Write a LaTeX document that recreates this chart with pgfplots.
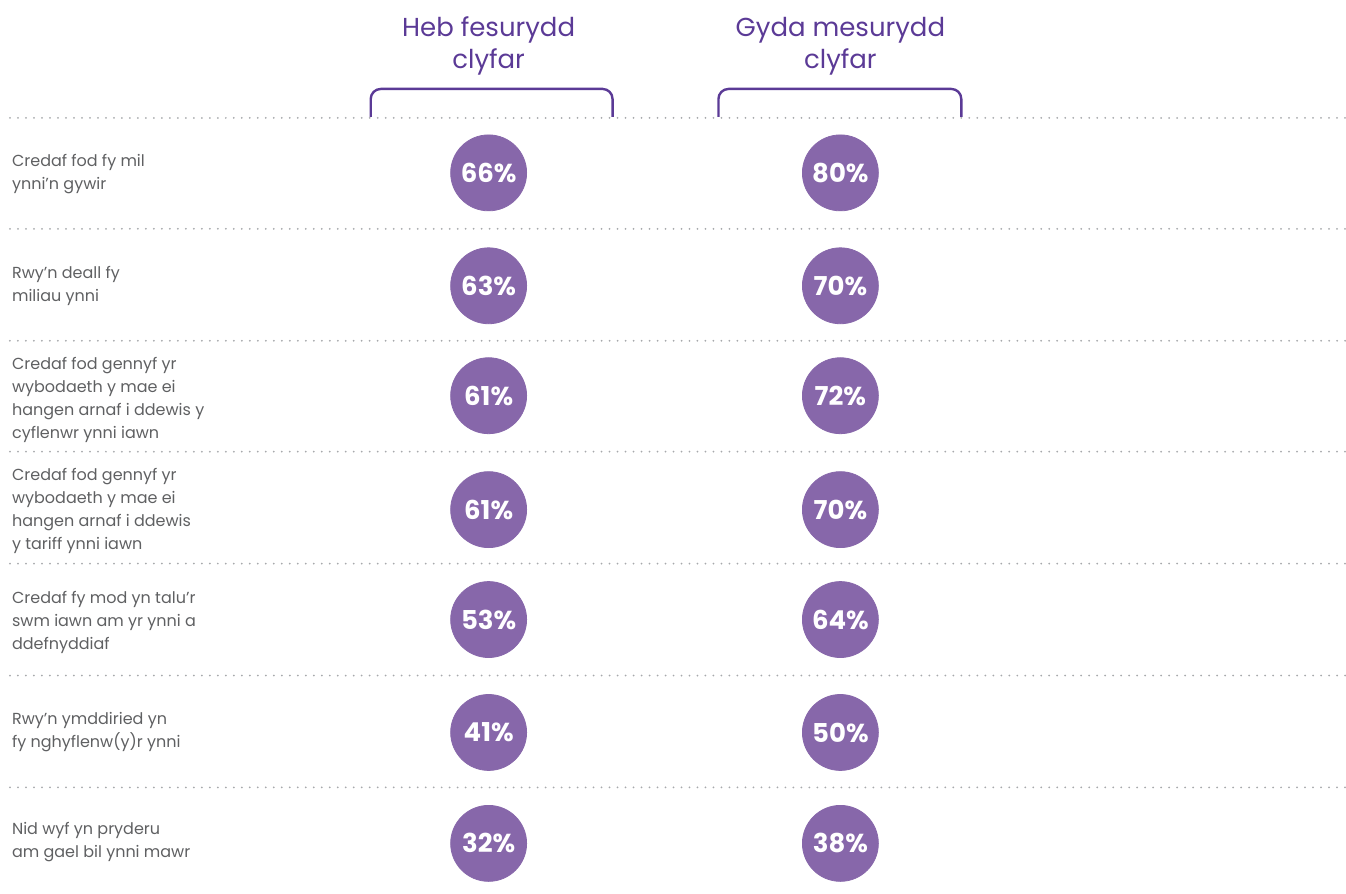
\documentclass[border=0pt]{standalone}
\usepackage{pgfplots}
\pgfplotsset{compat=1.18}
\usepackage{fontspec}
\setmainfont{Poppins}
\definecolor{hdr}{HTML}{5B3A96}
\definecolor{dot}{HTML}{8767AA}
\definecolor{lbl}{HTML}{5F6062}
\definecolor{rule}{HTML}{A7A9AC}

\begin{document}
\begin{tikzpicture}
\begin{axis}[
    scale only axis,
    width=673pt, height=447pt,
    xmin=0, xmax=1346, ymin=0, ymax=894,
    y dir=reverse,
    hide axis,
    clip=false,
]
% invisible corners to fix the page
\addplot[draw=none] coordinates {(0,0)(1346,894)};

% dotted separators
\foreach \yy in {118,229,341,452,564,676,788} {
  \edef\tmp{\noexpand\draw[rule, line width=1pt, line cap=round,
     dash pattern=on 0pt off 4pt] (axis cs:10,\yy) -- (axis cs:1346,\yy);}
  \tmp
}

% headers
\node[hdr, font=\fontsize{13}{16}\selectfont, align=center, anchor=north]
  at (axis cs:489,10) {Heb fesurydd\\clyfar};
\node[hdr, font=\fontsize{13}{16}\selectfont, align=center, anchor=north]
  at (axis cs:841,10) {Gyda mesurydd\\clyfar};
\draw[hdr, line width=1.2pt, rounded corners=5pt]
  (axis cs:371,117) -- (axis cs:371,89) -- (axis cs:613,89) -- (axis cs:613,117);
\draw[hdr, line width=1.2pt, rounded corners=5pt]
  (axis cs:719,117) -- (axis cs:719,89) -- (axis cs:962,89) -- (axis cs:962,117);

% circles with values
\addplot[only marks, mark=*, mark size=19pt, color=dot,
  point meta=explicit symbolic,
  nodes near coords={\pgfplotspointmeta\%},
  nodes near coords align=center,
  every node near coord/.append style={white, font=\fontsize{13}{13}\selectfont\bfseries,
    anchor=center},
] table[meta=v] {
x   y   v
489 173 66
489 286 63
489 396 61
489 510 61
489 620 53
489 733 41
489 844 32
841 173 80
841 286 70
841 396 72
841 510 70
841 620 64
841 733 50
841 844 38
};

% row labels
\tikzset{rl/.style={lbl, anchor=west, align=left, font=\fontsize{8}{11.5}\selectfont}}
\node[rl] at (axis cs:5,174) {Credaf fod fy mil\\ynni’n gywir};
\node[rl] at (axis cs:5,286) {Rwy’n deall fy\\miliau ynni};
\node[rl] at (axis cs:5,400) {Credaf fod gennyf yr\\wybodaeth y mae ei\\hangen arnaf i ddewis y\\cyflenwr ynni iawn};
\node[rl] at (axis cs:5,511) {Credaf fod gennyf yr\\wybodaeth y mae ei\\hangen arnaf i ddewis\\y tariff ynni iawn};
\node[rl] at (axis cs:5,623) {Credaf fy mod yn talu’r\\swm iawn am yr ynni a\\ddefnyddiaf};
\node[rl] at (axis cs:5,733) {Rwy’n ymddiried yn\\fy nghyflenw(y)r ynni};
\node[rl] at (axis cs:5,843) {Nid wyf yn pryderu\\am gael bil ynni mawr};
\end{axis}
\end{tikzpicture}
\end{document}
